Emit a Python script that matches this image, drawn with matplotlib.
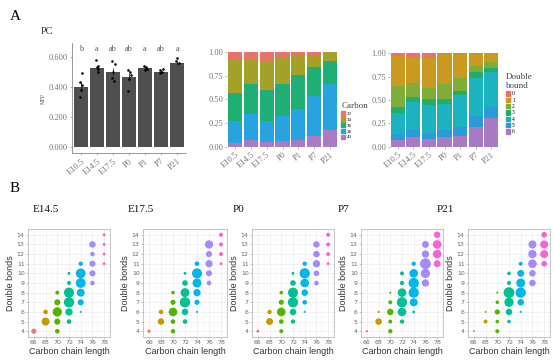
import matplotlib
matplotlib.use("Agg")
import matplotlib.pyplot as plt
from matplotlib.patches import Patch
import numpy as np

W, H = 554, 360

# ---------------- data ----------------
stages_a = ["E10.5", "E14.5", "E17.5", "P0", "P1", "P7", "P21"]
mfp_mean = [0.400, 0.525, 0.503, 0.468, 0.525, 0.503, 0.560]
mfp_err = [0.030, 0.015, 0.025, 0.025, 0.010, 0.010, 0.015]
mfp_points = [
    [0.49, 0.43, 0.41, 0.38, 0.33],
    [0.58, 0.54, 0.53, 0.52, 0.50],
    [0.57, 0.55, 0.50, 0.46, 0.44],
    [0.51, 0.50, 0.48, 0.45, 0.37],
    [0.54, 0.53, 0.52, 0.51],
    [0.52, 0.51, 0.50, 0.49],
    [0.59, 0.57, 0.56],
]
jitter = [
    [0.05, -0.08, 0.10, 0.02, -0.05],
    [-0.05, 0.08, -0.02, 0.10, 0.05],
    [-0.08, 0.10, 0.02, -0.05, 0.08],
    [-0.05, 0.08, 0.12, 0.02, -0.05],
    [-0.06, 0.04, 0.10, 0.00],
    [0.10, -0.05, 0.03, -0.08],
    [0.02, -0.06, 0.10],
]
sig_letters = ["b", "a", "ab", "ab", "a", "ab", "a"]

# carbon composition (fractions, bottom -> top)
carbon_labels = ["40", "38", "36", "34", "32"]
carbon_frac = [
    [0.04, 0.07, 0.05, 0.06, 0.07, 0.11, 0.18],
    [0.23, 0.28, 0.22, 0.26, 0.33, 0.43, 0.48],
    [0.30, 0.31, 0.33, 0.34, 0.36, 0.31, 0.25],
    [0.36, 0.26, 0.31, 0.28, 0.20, 0.11, 0.09],
    [0.07, 0.08, 0.09, 0.06, 0.04, 0.04, 0.00],
]
carbon_colors = ["#A97BC2", "#29A3DF", "#1FAE74", "#A3A127", "#E9726A"]

# double bond composition (fractions, bottom -> top)
db_labels = ["6", "5", "4", "3", "2", "1", "0"]
db_frac = [
    [0.065, 0.10, 0.08, 0.10, 0.11, 0.21, 0.31],
    [0.075, 0.08, 0.07, 0.08, 0.10, 0.12, 0.12],
    [0.22, 0.30, 0.30, 0.28, 0.34, 0.41, 0.37],
    [0.06, 0.05, 0.06, 0.05, 0.05, 0.06, 0.04],
    [0.23, 0.15, 0.12, 0.16, 0.14, 0.07, 0.07],
    [0.325, 0.28, 0.325, 0.32, 0.25, 0.12, 0.09],
    [0.025, 0.04, 0.045, 0.01, 0.01, 0.01, 0.00],
]
db_colors = ["#A77BC4", "#2B9AD8", "#1DB2BF", "#22AD68", "#80AC3A", "#C99A1F", "#E9726A"]

# bubble plots
stages_b = ["E14.5", "E17.5", "P0", "P7", "P21"]
carbon_len = [66, 68, 68, 70, 70, 70, 70, 70, 72, 72, 72, 72, 72, 72,
              74, 74, 74, 74, 74, 74, 76, 76, 76, 76, 76, 78, 78, 78, 78]
dbonds = [4, 5, 6, 4, 5, 6, 7, 8, 5, 6, 7, 8, 9, 10,
          6, 7, 8, 9, 10, 11, 9, 10, 11, 12, 13, 11, 12, 13, 14]
abund = {
    "E14.5": [2.5, 6, 2, 2, 3.5, 8, 3.5, 1.5, 2, 5, 10, 9.5, 1.5, 0.8,
              0.4, 3.5, 6, 9, 9, 1.8, 2, 3.5, 3.5, 2, 4, 0.8, 0.8, 0.8, 0.8],
    "E17.5": [1, 4, 2, 1.8, 2, 7, 2.5, 1.2, 2, 4, 10, 7.5, 3, 0.8,
              0.4, 2.5, 5, 7.5, 9.5, 2, 2, 3.5, 5, 3.5, 6.5, 0.8, 1.5, 1.5, 1.5],
    "P0":    [0.8, 4.5, 1.8, 1.5, 2, 7, 2.5, 1.2, 1.8, 4, 10, 9.5, 3, 0.8,
              0.4, 2, 4, 7, 10, 1.8, 2, 3, 5, 4, 4, 0.8, 1.5, 1.5, 1.5],
    "P7":    [0.5, 4, 0.5, 1.8, 1.5, 4, 1.5, 0.4, 1.8, 7, 10, 7, 1.8, 1.5,
              0.8, 6, 10, 10, 7, 1.8, 5, 8, 11, 5, 4.5, 4.5, 7, 7, 4],
    "P21":   [0.4, 1.5, 0.4, 1.5, 1.2, 2.5, 1.2, 0.4, 1.2, 4, 8, 11, 1.5, 1.2,
              0.4, 4, 10, 7.5, 4.5, 1.5, 4, 4, 7, 6.5, 6, 3, 6, 6, 3],
}
carbon_levels = [66, 68, 70, 72, 74, 76, 78]
level_colors = ["#F8766D", "#C49A00", "#53B400", "#00C094", "#00B6EB", "#A58AFF", "#FB61D7"]

# ---------------- figure ----------------
fig = plt.figure(figsize=(W / 100, H / 100), dpi=100)
fig.patch.set_facecolor("white")
SERIF = "Liberation Serif"
SANS = "Liberation Sans"


def px_axes(l, t, r, b):
    return fig.add_axes([l / W, 1 - b / H, (r - l) / W, (b - t) / H])


def fx(x):
    return x / W


def fy(y):
    return 1 - y / H


fig.text(fx(10), fy(17), "A", fontsize=11, family=SERIF, va="center")
fig.text(fx(41), fy(31), "PC", fontsize=7.5, family=SERIF, va="center", color="#333333")
fig.text(fx(10), fy(189), "B", fontsize=11, family=SERIF, va="center")

# ---- bar chart ----
ax = px_axes(72, 43, 186, 153)
x = np.arange(len(stages_a))
ax.bar(x, mfp_mean, width=0.9, color="#4f4f4f", zorder=2)
ax.errorbar(x, mfp_mean, yerr=mfp_err, fmt="none", ecolor="black", elinewidth=0.5,
            capsize=0, zorder=3)
for i, pts in enumerate(mfp_points):
    ax.scatter(np.array(jitter[i]) + i, pts, s=3.5, color="black", zorder=4, linewidths=0)
for i, lt in enumerate(sig_letters):
    ax.text(i, 0.655, lt, ha="center", va="center", fontsize=6, family=SERIF, color="#555555")
ax.set_xlim(-0.55, 6.55)
ax.set_ylim(-0.04, 0.693)
ax.set_yticks([0, 0.2, 0.4, 0.6])
ax.set_yticklabels(["0.000", "0.200", "0.400", "0.600"])
ax.set_xticks(x)
ax.set_xticklabels(stages_a, rotation=40, ha="right", rotation_mode="anchor")
ax.set_ylabel("MFP", fontsize=4, family=SERIF, color="#555555", labelpad=2)
for lab in ax.get_xticklabels() + ax.get_yticklabels():
    lab.set_family(SERIF)
    lab.set_fontsize(6)
    lab.set_color("#555555")
ax.tick_params(length=1.5, width=0.4, colors="#777777", pad=1.5)
for s in ["top", "right"]:
    ax.spines[s].set_visible(False)
for s in ["left", "bottom"]:
    ax.spines[s].set_color("#888888")
    ax.spines[s].set_linewidth(0.6)


def stacked(ax, fracs, colors):
    bottom = np.zeros(len(stages_a))
    for f, c in zip(fracs, colors):
        ax.bar(x, f, bottom=bottom, width=0.9, color=c, edgecolor="none")
        bottom += np.array(f)
    ax.set_xlim(-0.5, 6.5)
    ax.set_ylim(-0.005, 1.005)
    ax.set_yticks([0, 0.25, 0.5, 0.75, 1.0])
    ax.set_yticklabels(["0.00", "0.25", "0.50", "0.75", "1.00"])
    ax.set_xticks(x)
    ax.set_xticklabels(stages_a, rotation=40, ha="right", rotation_mode="anchor")
    for lab in ax.get_xticklabels() + ax.get_yticklabels():
        lab.set_family(SERIF)
        lab.set_fontsize(6)
        lab.set_color("#555555")
    ax.tick_params(length=1.2, width=0.4, colors="#777777", pad=1.5)
    for s in ax.spines.values():
        s.set_visible(False)


ax2 = px_axes(227, 52, 338, 147)
stacked(ax2, carbon_frac, carbon_colors)
h2 = [Patch(color=c) for c in carbon_colors[::-1]]
leg2 = fig.legend(h2, carbon_labels[::-1], loc="upper left",
                  bbox_to_anchor=(fx(338), fy(99)), frameon=False, title="Carbon",
                  prop={"family": SERIF, "size": 3.5}, handlelength=0.8, handleheight=1.0,
                  labelspacing=0.2, handletextpad=0.3, borderpad=0.2, alignment="left")
leg2.get_title().set_fontsize(6.5)
leg2.get_title().set_family(SERIF)
leg2.get_title().set_color("#444444")

ax3 = px_axes(390, 53, 499, 147)
stacked(ax3, db_frac, db_colors)
h3 = [Patch(color=c) for c in db_colors[::-1]]
leg3 = fig.legend(h3, db_labels[::-1], loc="upper left",
                  bbox_to_anchor=(fx(502), fy(69)), frameon=False, title="Double\nbound",
                  prop={"family": SERIF, "size": 4}, handlelength=0.8, handleheight=0.9,
                  labelspacing=0.2, handletextpad=0.3, borderpad=0.2, alignment="left")
leg3.get_title().set_fontsize(6.5)
leg3.get_title().set_family(SERIF)
leg3.get_title().set_color("#444444")

# ---- bubble plots ----
boxes = [(28, 110), (143, 227), (252, 334), (361, 443), (468, 550)]
titles_x = [33, 128, 233, 338, 437]
cmap = dict(zip(carbon_levels, level_colors))
for k, st in enumerate(stages_b):
    l, r = boxes[k]
    axb = px_axes(l, 229, r, 337)
    cols = [cmap[c] for c in carbon_len]
    axb.scatter(carbon_len, dbonds, s=np.array(abund[st]) * 5.5, c=cols, linewidths=0, zorder=3)
    axb.set_xlim(65.0, 79.0)
    axb.set_ylim(3.4, 14.6)
    axb.set_xticks(carbon_levels)
    axb.set_yticks(range(4, 15))
    axb.set_xticks(np.arange(65, 80, 1), minor=True)
    axb.set_yticks(np.arange(3.5, 15, 1), minor=True)
    axb.grid(which="major", color="#ececec", linewidth=0.5, zorder=0)
    axb.grid(which="minor", color="#f4f4f4", linewidth=0.35, zorder=0)
    axb.set_axisbelow(True)
    axb.tick_params(which="major", length=1.2, width=0.4, colors="#999999", labelsize=4.5,
                    labelcolor="#666666", pad=1.2)
    axb.tick_params(which="minor", length=0)
    for s in axb.spines.values():
        s.set_color("#bbbbbb")
        s.set_linewidth(0.6)
    axb.set_xlabel("Carbon chain length", fontsize=6.5, family=SANS, color="#333333", labelpad=1)
    axb.set_ylabel("Double bonds", fontsize=6.5, family=SANS, color="#333333", labelpad=1)
    fig.text(fx(titles_x[k]), fy(209), st, fontsize=8, family=SERIF, va="center", color="#111111")

fig.savefig("out.png", dpi=100, facecolor="white")
